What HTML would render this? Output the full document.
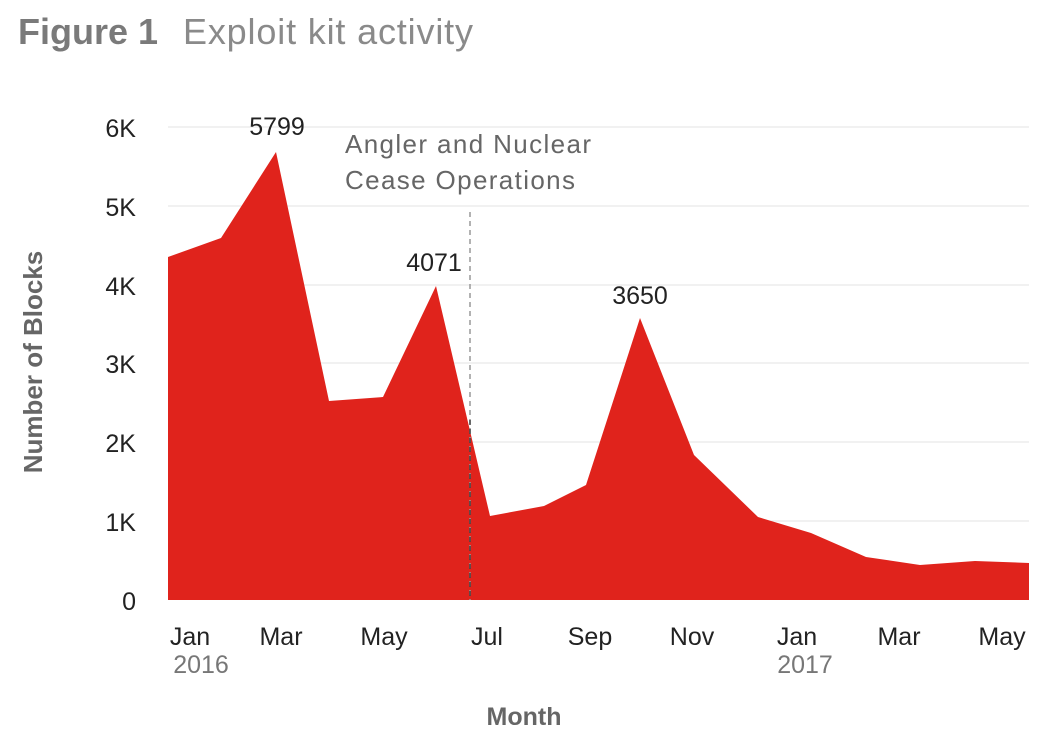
<!DOCTYPE html>
<html><head><style>
body{margin:0;background:#fff;width:1048px;height:744px;overflow:hidden;font-family:"Liberation Sans",sans-serif}
</style></head><body>
<svg width="1048" height="744" xmlns="http://www.w3.org/2000/svg" font-family="Liberation Sans, sans-serif">
<text x="18" y="44" font-size="36" fill="#7a7a7a" font-weight="bold" textLength="140">Figure 1</text>
<text x="183" y="44" font-size="36" fill="#8a8a8a" textLength="290">Exploit kit activity</text>
<g stroke="#e3e3e3" stroke-width="1">
<line x1="168" y1="127" x2="1029" y2="127"/><line x1="168" y1="206" x2="1029" y2="206"/>
<line x1="168" y1="285" x2="1029" y2="285"/><line x1="168" y1="363" x2="1029" y2="363"/>
<line x1="168" y1="442" x2="1029" y2="442"/><line x1="168" y1="521" x2="1029" y2="521"/>
</g>
<polygon fill="#e0231c" points="168,600 168,257 221,238 276,152 329,401 383,397 436,286 490,516 544,506 586,485 640,318 694,455 758,517 811,533 866,557 920,565 975,561 1029,563 1029,600"/>
<line x1="470" y1="212" x2="470" y2="600" stroke="#999" stroke-width="1.5" stroke-dasharray="5,4"/>
<line x1="470" y1="420" x2="470" y2="600" stroke="#444" stroke-width="1.5" stroke-dasharray="5,4"/>
<g font-size="25" fill="#222" text-anchor="end">
<text x="136" y="137">6K</text><text x="136" y="216">5K</text><text x="136" y="295">4K</text>
<text x="136" y="373">3K</text><text x="136" y="452">2K</text><text x="136" y="531">1K</text><text x="136" y="610">0</text>
</g>
<g font-size="25" fill="#222" text-anchor="middle">
<text x="190" y="645">Jan</text><text x="281" y="645">Mar</text><text x="384" y="645">May</text>
<text x="487" y="645">Jul</text><text x="590" y="645">Sep</text><text x="692" y="645">Nov</text>
<text x="797" y="645">Jan</text><text x="899" y="645">Mar</text><text x="1002" y="645">May</text>
</g>
<g font-size="25" fill="#777" text-anchor="middle">
<text x="201" y="673">2016</text><text x="805" y="673">2017</text>
</g>
<g font-size="25" fill="#222" text-anchor="middle">
<text x="277" y="135">5799</text><text x="434" y="271">4071</text><text x="640" y="304">3650</text>
</g>
<text x="345" y="153" font-size="26" fill="#666" textLength="246">Angler and Nuclear</text>
<text x="345" y="189" font-size="26" fill="#666" textLength="230">Cease Operations</text>
<text x="524" y="725" font-size="25" font-weight="bold" fill="#666" text-anchor="middle">Month</text>
<text transform="translate(42,362) rotate(-90)" font-size="26" font-weight="bold" fill="#666" text-anchor="middle">Number of Blocks</text>
</svg>
</body></html>
